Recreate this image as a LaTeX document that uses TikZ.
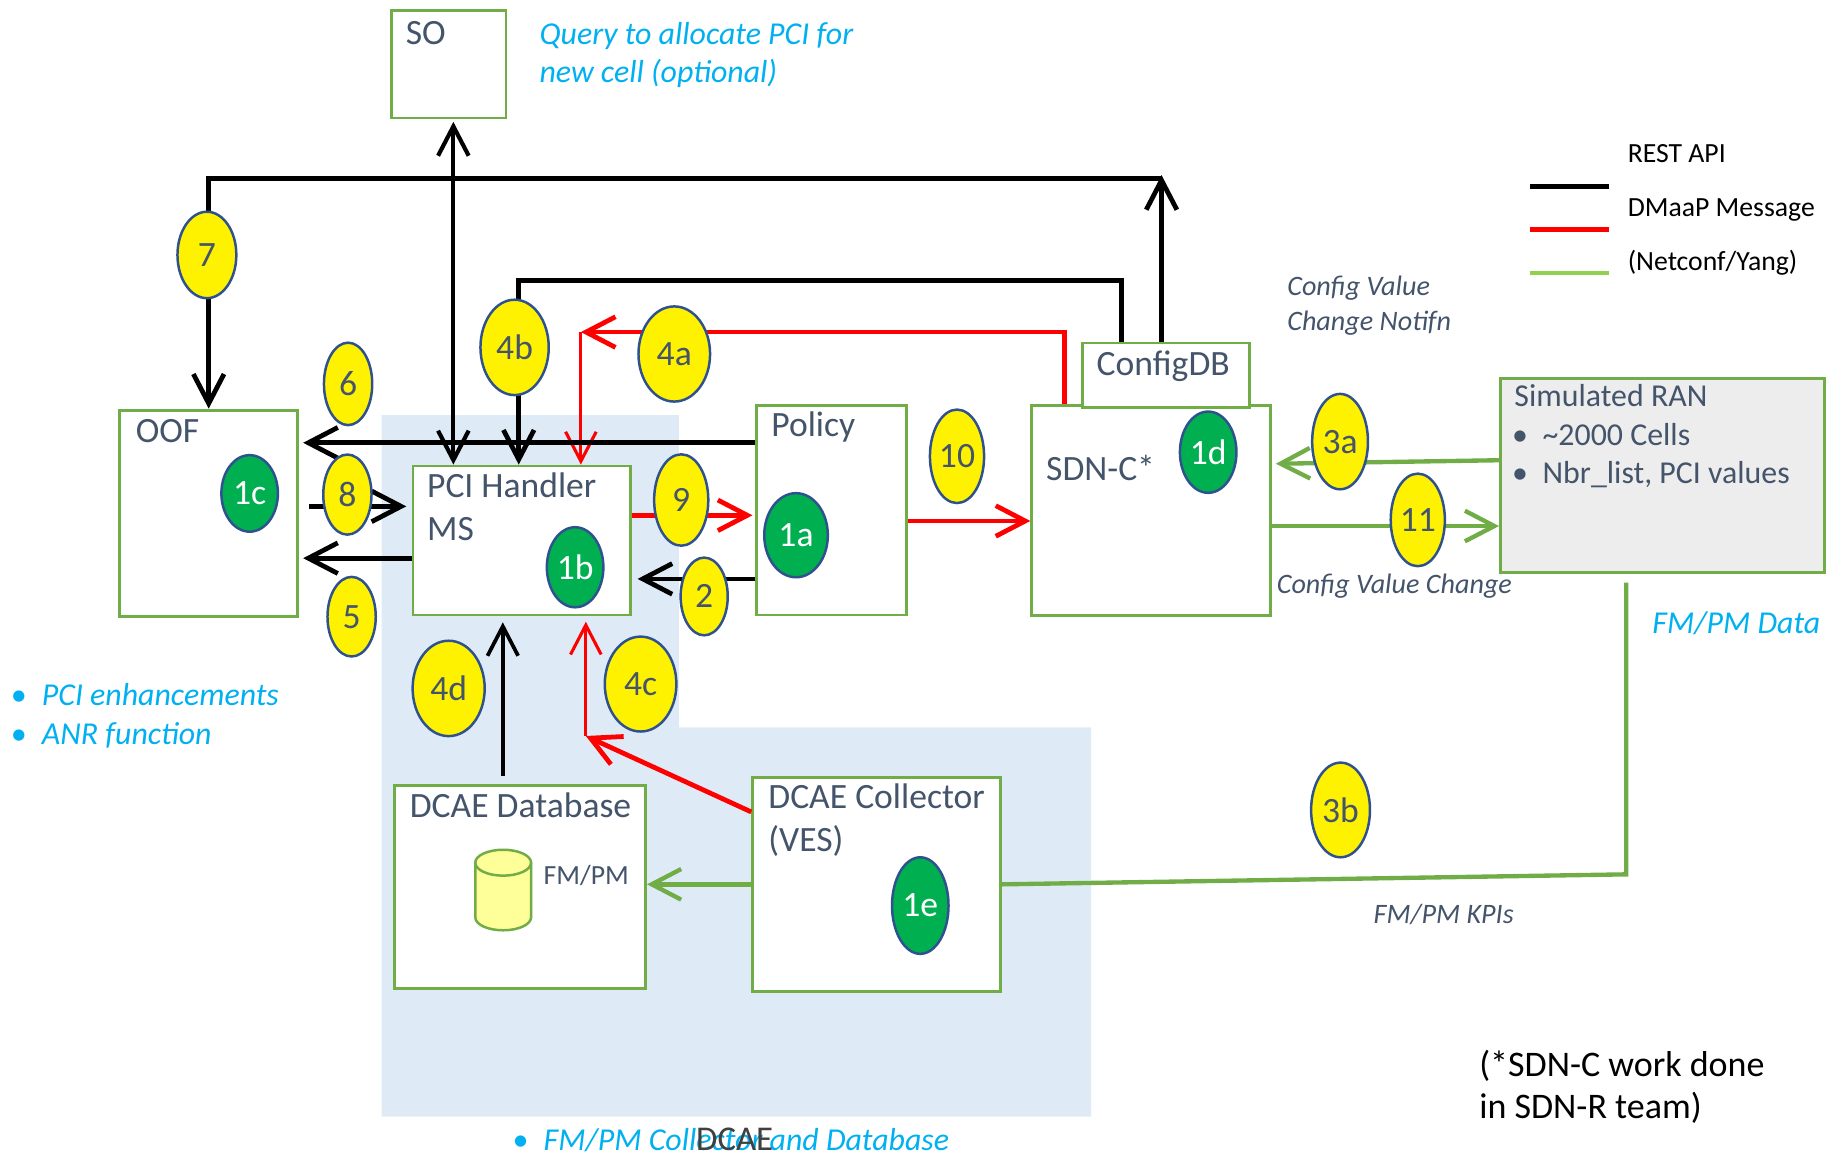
\documentclass[tikz,border=0pt]{standalone}
\usepackage{fontspec}
\setmainfont{Carlito}
\usepackage{tikz}
\usetikzlibrary{shapes}
\usetikzlibrary{arrows.meta}
\usetikzlibrary{positioning}
\definecolor{gristexte}{HTML}{44546A}
\definecolor{vertboite}{HTML}{70AD47}
\definecolor{bleuzone}{HTML}{DEEBF7}
\definecolor{bordbleu}{HTML}{2F528F}
\definecolor{vertrond}{HTML}{00B050}
\definecolor{cyantexte}{HTML}{00B0F0}
\definecolor{vertclair}{HTML}{92D050}
\definecolor{grisran}{HTML}{EDEDED}
\definecolor{jaunepale}{HTML}{FFFF99}

\begin{document}
\begin{tikzpicture}[x=0.1mm,y=-0.1mm,>={Straight Barb[length=2.5mm,width=2.6mm]}]
% définition des styles
\tikzstyle boite=[draw=vertboite,line width=0.7pt,fill=white,anchor=north west,inner sep=0]
\tikzstyle titre=[font=\fontsize{8.6}{10.8}\selectfont,text=gristexte,inner sep=0,anchor=base west]
\tikzstyle petittitre=[font=\fontsize{7.7}{9.2}\selectfont,text=gristexte,inner sep=0,anchor=base west]
\tikzstyle note=[font=\fontsize{7.7}{9.2}\selectfont\itshape,text=cyantexte,inner sep=0,anchor=base west]
\tikzstyle remarque=[font=\fontsize{6.8}{8.2}\selectfont\itshape,text=gristexte,inner sep=0,anchor=base west]
\tikzstyle legende=[font=\fontsize{6.7}{8}\selectfont,text=black,inner sep=0,anchor=base west]
\tikzstyle renvoi=[font=\fontsize{8.7}{10.5}\selectfont,text=black,inner sep=0,anchor=base west]
\tikzstyle jaune=[ellipse,draw=bordbleu,line width=0.6pt,fill=yellow,text=gristexte,font=\fontsize{8.6}{10.8}\selectfont,inner sep=0]
\tikzstyle rond=[ellipse,draw=bordbleu,line width=0.6pt,fill=vertrond,text=white,font=\fontsize{8.6}{10.8}\selectfont,inner sep=0]
\tikzstyle noir=[draw=black,line width=1.15pt]
\tikzstyle noirso=[draw=black,line width=1pt]
\tikzstyle noirfin=[draw=black,line width=0.9pt]
\tikzstyle rouge=[draw=red,line width=1.15pt]
\tikzstyle rougefin=[draw=red,line width=0.75pt]
\tikzstyle vert=[draw=vertboite,line width=1.05pt]
\tikzstyle cylindre=[draw=vertboite,line width=0.6pt,fill=jaunepale]

\useasboundingbox (0,0) rectangle (1560,980);

% la zone DCAE
\fill[bleuzone] (324,352.5) -- (576.6,352.5) -- (576.6,617.7) -- (926.6,617.7)
  -- (926.6,948.3) -- (324,948.3) -- cycle;

% les boîtes
\node[boite,minimum width=9.7mm,minimum height=9.1mm] (so) at (331.5,8) {};
\node[boite,minimum width=15.1mm,minimum height=17.5mm] (oof) at (100.5,347) {};
\node[boite,minimum width=18.45mm,minimum height=12.65mm] (pci) at (349.5,394.5) {};
\node[boite,minimum width=12.7mm,minimum height=17.8mm] (policy) at (641.5,343) {};
\node[boite,minimum width=20.25mm,minimum height=17.85mm] (sdnc) at (875,343) {};
\node[boite,minimum width=14.2mm,minimum height=5.5mm] (cfg) at (918,290) {};
\node[boite,fill=grisran,minimum width=27.55mm,minimum height=16.5mm] (ran) at (1273,320) {};
\node[boite,minimum width=21.3mm,minimum height=17.25mm] (db) at (334,665.5) {};
\node[boite,minimum width=21.05mm,minimum height=18.15mm] (col) at (638,659) {};

% les titres
\node[titre] (tso) at ([shift={(12.5,30)}]so.north west) {SO};
\node[titre] (toof) at ([shift={(14.1,28.5)}]oof.north west) {OOF};
\node[titre] (tpci) at ([shift={(12.5,28.1)}]pci.north west) {PCI Handler};
\node[titre] (tms) at ([shift={(12.5,64.8)}]pci.north west) {MS};
\node[titre] (tpolicy) at ([shift={(12.8,27.7)}]policy.north west) {Policy};
\node[titre] (tsdnc) at ([shift={(12.7,64.8)}]sdnc.north west) {SDN-C*};
\node[titre] (tcfg) at ([shift={(12.6,29)}]cfg.north west) {ConfigDB};
\node[petittitre] (tran) at ([shift={(12.4,25.6)}]ran.north west) {Simulated RAN};
\node[petittitre] (tcells) at ([shift={(10.3,58.6)}]ran.north west) {\makebox[2.6mm][l]{\textbullet}\textasciitilde2000 Cells};
\node[petittitre] (tnbr) at ([shift={(10.3,91)}]ran.north west) {\makebox[2.6mm][l]{\textbullet}Nbr\_list, PCI values};
\node[titre] (tdb) at ([shift={(13.3,28.5)}]db.north west) {DCAE Database};
\node[titre] (tcol) at ([shift={(13.8,27.2)}]col.north west) {DCAE Collector};
\node[titre] (tves) at ([shift={(13.8,64.2)}]col.north west) {(VES)};

% le cylindre
\filldraw[cylindre] (403.6,732.6) -- (403.6,779)
  arc[start angle=180,end angle=360,x radius=2.37mm,y radius=1.1mm] -- (451,732.6)
  arc[start angle=0,end angle=180,x radius=2.37mm,y radius=1.1mm] -- cycle;
\draw[cylindre,fill=none] (403.6,732.6) arc[start angle=180,end angle=360,x radius=2.37mm,y radius=1.1mm];
\node[legende,text=gristexte] (tfmpm) at ([shift={(127,86)}]db.north west) {FM/PM};

% les flèches
\coordinate (haut) at (986.4,151.7);
\draw[noir,->] (haut |- cfg.north) -- ([yshift=0.3mm]haut);
\draw[noir,->] (haut) -| (oof.north);
\coordinate (xso) at (385,0);
\draw[noirso,<->,shorten <=0.2mm] (xso |- so.south) -- (xso |- pci.north);
\coordinate (d4b) at (952.5,238);
\coordinate (g4b) at (440.5,238);
\draw[noir,->] (d4b |- cfg.north) -- (d4b) -- (g4b) -- (g4b |- pci.north);
\coordinate (d4a) at (904,282);
\coordinate (g4a) at (493.3,282);
\draw[rouge,->] (d4a |- sdnc.north) -- (d4a) -- (g4a);
\draw[rougefin,->] (g4a) -- (g4a |- pci.north);
\coordinate (y6) at (0,376);
\draw[noir,->,shorten >=0.35mm] (policy.west |- y6) -- (oof.east |- y6);
\coordinate (d8) at (262.6,430);
\draw[noir,->,shorten >=0.45mm] (d8) -- (d8 -| pci.west);
\coordinate (y5) at (0,474);
\draw[noir,->,shorten >=0.35mm] (pci.west |- y5) -- (oof.east |- y5);
\coordinate (y9) at (0,437.6);
\draw[rouge,->,shorten >=0.25mm] (pci.east |- y9) -- (policy.west |- y9);
\coordinate (y2) at (0,491.6);
\draw[noir,->,shorten >=0.5mm] (policy.west |- y2) -- (pci.east |- y2);
\coordinate (y10) at (0,442.4);
\draw[rouge,->] (policy.east |- y10) -- (sdnc.west |- y10);
\draw[vert,->,shorten >=0.35mm] ([yshift=1.29mm]ran.west) -- ([yshift=3.96mm]sdnc.east);
\coordinate (y11) at (0,446.7);
\draw[vert,->] (sdnc.east |- y11) -- (ran.west |- y11);
\coordinate (d3b) at (1381,494.8);
\coordinate (c3b) at (1381,742.5);
\draw[vert] (d3b) -- (c3b) -- (col.east);
\draw[vert,->] (col.west) -- (col.west -| db.east);
\coordinate (x4d) at (427,0);
\draw[noirfin,->,shorten <=0.65mm,shorten >=0.5mm] (x4d |- db.north) -- (x4d |- pci.south);
\coordinate (d4c) at (638,689.5);
\coordinate (c4c) at (497.5,625);
\draw[rouge,->] (d4c) -- (c4c);
\draw[rougefin,->,shorten >=0.45mm] (c4c) -- (c4c |- pci.south);

% les étapes
\foreach \nom/\x/\y/\lx/\ly in {7/175.7/216.5/5.0/7.34, 6/295.6/326/4.1/7.0,
  8/295/420/4.1/6.8, 5/298.6/523.7/4.1/6.76, 4b/437/295/5.8/8.1,
  4a/572.6/300.6/6.08/8.08, 9/578.5/424.6/4.6/7.76, 2/598/506.5/4.0/6.6,
  10/812.7/387.5/4.6/7.94, 3a/1138/375/4.74/8.1, 11/1204/441.5/4.6/7.86,
  4d/381/584.6/6.12/8.1, 4c/544/580.9/6.08/8.06, 3b/1138.4/687.8/5.0/8.04}
  \node[jaune,minimum width=\lx mm,minimum height=\ly mm] (e\nom) at (\x,\y) {\nom};
\foreach \nom/\x/\y/\lx/\ly in {1c/212/419/4.8/6.5, 1b/488.4/481.7/4.8/6.8,
  1a/676/454.5/5.4/7.14, 1d/1026/384/4.8/6.9, 1e/781.5/769/4.8/8.2}
  \node[rond,minimum width=\lx mm,minimum height=\ly mm] (e\nom) at (\x,\y) {\nom};

% la légende
\coordinate (leg1) at (1299,158.7);
\coordinate (leg2) at (1299,195);
\coordinate (leg3) at (1299,231.9);
\draw[noir,line width=1.25pt] (leg1) -- ++(67.6,0);
\draw[rouge] (leg2) -- ++(67.6,0);
\draw[vert,draw=vertclair] (leg3) -- ++(67.6,0);
\node[legende] (rest) at (1381.6,138) {REST API};
\node[legende] (dmaap) at (1381.6,183.8) {DMaaP Message};
\node[legende] (netconf) at (1381.6,229.3) {(Netconf/Yang)};

% les textes
\node[note] (query1) at (457.5,38) {Query to allocate PCI for};
\node[note] (query2) at (457.5,70) {new cell (optional)};
\node[note] (enh) at (8.3,599.3) {\makebox[2.66mm][l]{\textbullet}PCI enhancements};
\node[note] (anr) at (8.3,632) {\makebox[2.66mm][l]{\textbullet}ANR function};
\node[note] (fmdata) at (1402.5,538) {FM/PM Data};
\node[note] (fmcol) at (434.3,977) {\makebox[2.67mm][l]{\textbullet}FM/PM Collector and Database};
\node[titre,text=black!75,font=\fontsize{8.4}{10}\selectfont] (dcae) at (590.5,977) {DCAE};
\node[remarque] (cvn1) at (1092.5,251.3) {Config Value};
\node[remarque] (cvn2) at (1092.5,280.5) {Change Notifn};
\node[remarque] (cvc) at (1083.6,503.8) {Config Value Change};
\node[remarque] (kpi) at (1165.8,784) {FM/PM KPIs};
\node[renvoi] (sdnr1) at (1255.5,914.5) {(*SDN-C work done};
\node[renvoi] (sdnr2) at (1255.5,950) {in SDN-R team)};
\end{tikzpicture}
\end{document}
